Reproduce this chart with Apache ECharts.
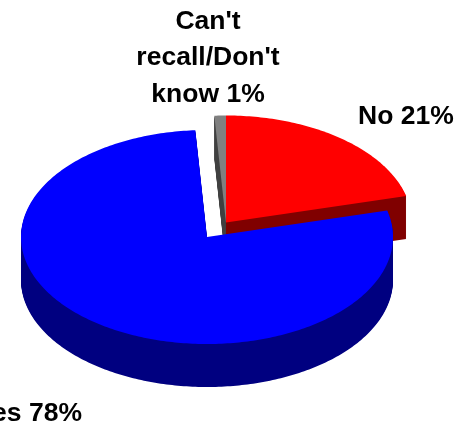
<!DOCTYPE html>
<html>
<head>
<meta charset="utf-8">
<style>html,body{margin:0;padding:0;background:#fff}#c{width:471px;height:426px}</style>
<script src="https://cdn.jsdelivr.net/npm/echarts@6/dist/echarts.min.js"></script>
</head>
<body>
<div id="c"></div>
<script>
// Data (draw order: back to front)
var categories = ["Can't\nrecall/Don't\nknow", "No", "Yes"];
var values = [1, 21, 78];
// Angles follow the clockwise order No, Yes, Can't recall starting at 12 o'clock
var startOrder = [2, 0, 1];
var topColors = ['#808080', '#ff0000', '#0000ff'];
var sideColors = ['#404040', '#800000', '#000080'];
var explodeX = [0, 0, -19];
var explodeY = [0, 0, 14.5];
var labelX = [208, 358, 82];
var labelY = [3, 98, 395];
var labelAlign = ['center', 'left', 'right'];

var cx = 226, cy = 222.5, rx = 186, ry = 107, depth = 43;
var fontCss = 'bold 26.5px "Liberation Sans", Arial, sans-serif';

var total = values.reduce(function (a, b) { return a + b; }, 0);
function startFrac(i) {
  var s = 0;
  for (var k = 0; k < startOrder[i]; k++) {
    s += values[startOrder.indexOf(k)];
  }
  return s / total;
}

function renderItem(params, api) {
  var i = params.dataIndex;
  var v = api.value(1);
  var a0 = startFrac(i) * Math.PI * 2;
  var a1 = a0 + v / total * Math.PI * 2;
  var ox = cx + explodeX[i], oy = cy + explodeY[i];
  var pts = [[ox, oy]];
  var n = Math.max(6, Math.ceil(v * 4));
  for (var k = 0; k <= n; k++) {
    var a = a0 + (a1 - a0) * k / n;
    pts.push([ox + rx * Math.sin(a), oy - ry * Math.cos(a)]);
  }
  var children = [];
  for (var d = depth; d >= 1; d--) {
    children.push({
      type: 'polygon', x: 0, y: d,
      shape: { points: pts },
      style: { fill: sideColors[i] }, silent: true
    });
  }
  children.push({
    type: 'polygon',
    shape: { points: pts },
    style: { fill: topColors[i] }, silent: true
  });
  children.push({
    type: 'text',
    x: labelX[i], y: labelY[i],
    style: {
      text: categories[i] + ' ' + v + '%',
      font: fontCss,
      fill: '#000',
      align: labelAlign[i],
      verticalAlign: 'top',
      lineHeight: 36.5
    }
  });
  return { type: 'group', children: children };
}

var chart = echarts.init(document.getElementById('c'), null, { renderer: 'canvas' });
chart.setOption({
  animation: false,
  backgroundColor: '#ffffff',
  series: [{
    type: 'custom',
    coordinateSystem: 'none',
    renderItem: renderItem,
    data: values.map(function (v, i) { return [i, v]; })
  }]
});
</script>
</body>
</html>
